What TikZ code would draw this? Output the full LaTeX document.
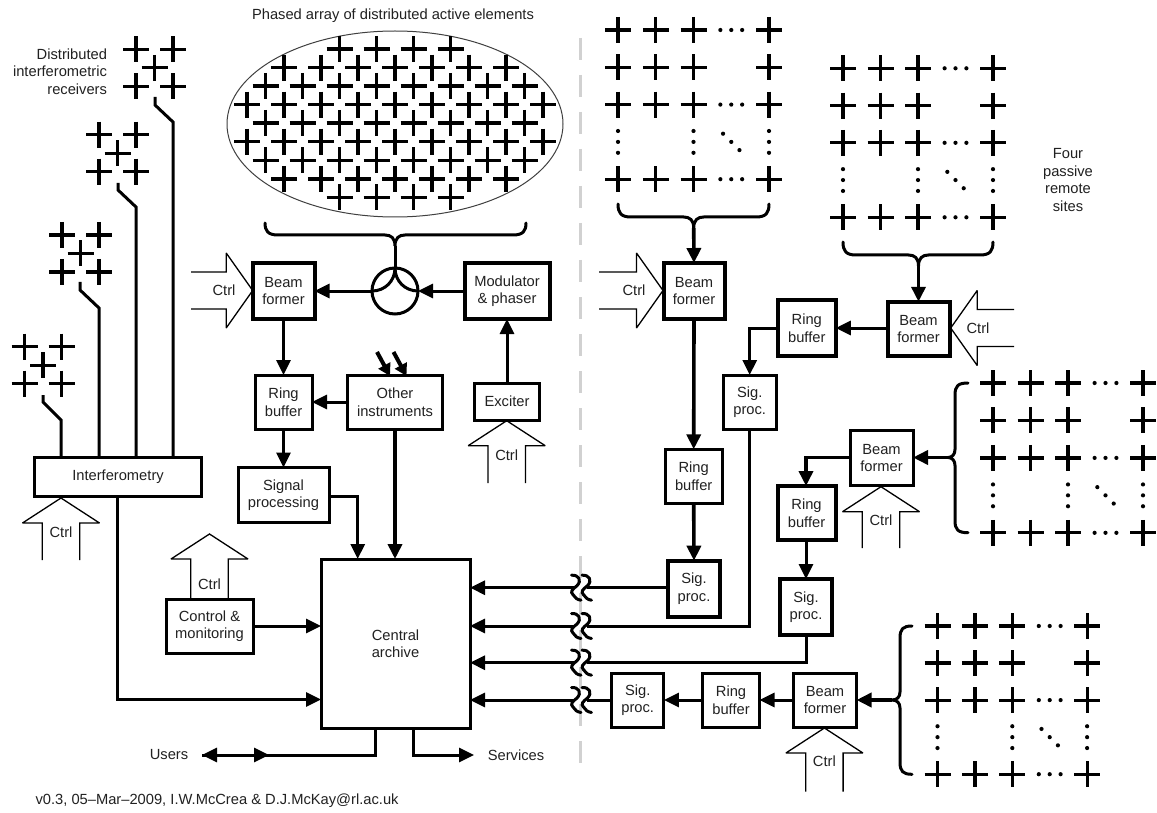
\documentclass[tikz,border=0pt]{standalone}
\usepackage{fontspec}
\setmainfont{Liberation Sans}
\usetikzlibrary{arrows.meta,shapes.geometric}
\definecolor{inkgrey}{gray}{0.13}
\tikzset{
  x=1pt,y=-1pt,
  boxa/.style={draw=black,line width=3pt,fill=white,inner sep=0pt,outer sep=0pt,align=center,text=inkgrey,font=\fontsize{14.7}{17.5}\selectfont},
  boxb/.style={boxa,line width=4pt},
  lab/.style={inner sep=0pt,outer sep=0pt,align=center,text=inkgrey,font=\fontsize{14.7}{17.5}\selectfont},
  conn/.style={line width=3pt,-{Triangle[length=15pt,width=14pt]}},
  wire/.style={line width=3pt},
  thickwire/.style={line width=3.6pt},
  plusline/.style={line width=3.2pt},
  outline/.style={line width=1.3pt,line join=miter,miter limit=3},
  squig/.style={line width=3pt,line cap=round},
  brace/.style={line width=3pt,line cap=round},
  size/.style n args={2}{minimum width=#1pt,minimum height=#2pt},
}
\newcommand{\plusat}[2]{\draw[plusline] ({#1-13},{#2}) -- ({#1+13},{#2}) ({#1},{#2-13}) -- ({#1},{#2+13});}
\newcommand{\dotat}[2]{\fill ({#1},{#2}) circle[radius=2.1];}
% x0, dx, y0, dy
\newcommand{\sitearray}[4]{%
  \foreach \r in {0,1,2,4}{\foreach \c in {0,1,2,4}{\plusat{#1+\c*#2}{#3+\r*#4}}}
  \foreach \r in {0,2,4}{\foreach \d in {-10.9,0,10.9}{\dotat{#1+3*#2+\d}{#3+\r*#4}}}
  \foreach \c in {0,2,4}{\foreach \d in {-10.9,0,10.9}{\dotat{#1+\c*#2}{#3+3*#4+\d}}}
  \foreach \d in {-8.2,0,8.2}{\dotat{#1+3*#2+\d}{#3+3*#4+\d}}
}
% xleft, xmid, xright, ytop, ybottom
\newcommand{\hbrace}[5]{%
  \draw[brace] (#1,#4) .. controls (#1,{#5-4}) and ({#1+3},#5) .. ({#1+13},#5) -- ({#2-10},#5)
     .. controls ({#2-4},#5) and (#2,{#5+3}) .. (#2,{#5+11})
     .. controls (#2,{#5+3}) and ({#2+4},#5) .. ({#2+10},#5) -- ({#3-13},#5)
     .. controls ({#3-3},#5) and (#3,{#5-4}) .. (#3,#4);}
% xend, xspine, xpeak, ytop, ymid, ybottom
\newcommand{\vbrace}[6]{%
  \draw[brace] (#1,#4) .. controls ({#2+3},#4) and (#2,{#4+3}) .. (#2,{#4+12}) -- (#2,{#5-8})
     .. controls (#2,{#5-3}) and ({#2-3},#5) .. (#3,#5)
     .. controls ({#2-3},#5) and (#2,{#5+3}) .. (#2,{#5+8}) -- (#2,{#6-12})
     .. controls (#2,{#6-3}) and ({#2+3},#6) .. (#1,#6);}
% apex x, apex y, shaft end y
\newcommand{\ctrlup}[3]{\draw[outline] ({#1-18.7},#3) -- ({#1-18.7},{#2+25}) -- ({#1-38.5},{#2+25}) -- (#1,#2) -- ({#1+38.5},{#2+25}) -- ({#1+18.7},{#2+25}) -- ({#1+18.7},#3);}
% apex x, apex y, shaft end x
\newcommand{\ctrlright}[3]{\draw[outline] (#3,{#2-18.5}) -- ({#1-26.5},{#2-18.5}) -- ({#1-26.5},{#2-37.5}) -- (#1,#2) -- ({#1-26.5},{#2+37.5}) -- ({#1-26.5},{#2+18.5}) -- (#3,{#2+18.5});}
\newcommand{\ctrlleft}[3]{\draw[outline] (#3,{#2-18.5}) -- ({#1+26.5},{#2-18.5}) -- ({#1+26.5},{#2-37.5}) -- (#1,#2) -- ({#1+26.5},{#2+37.5}) -- ({#1+26.5},{#2+18.5}) -- (#3,{#2+18.5});}
% receiver group: left x, y first row, wire x0 and bend
\newcommand{\recv}[2]{%
  \plusat{#1}{#2}\plusat{#1+37}{#2}\plusat{#1+18.5}{#2+18.5}\plusat{#1}{#2+37}\plusat{#1+37}{#2+37}}
\newcommand{\squiggle}[1]{%
  \foreach \dx in {0,10.5}{
  \draw[squig] ({571.5+\dx},{#1-12.5}) .. controls ({579+\dx},{#1-13}) and ({582+\dx},{#1-7}) .. ({577+\dx},{#1-2})
     .. controls ({572+\dx},{#1+2}) and ({570+\dx},{#1+4}) .. ({573+\dx},{#1+7}) .. controls ({575+\dx},{#1+10}) and ({577+\dx},{#1+12}) .. ({581+\dx},{#1+12.5});}}
\begin{document}
\begin{tikzpicture}
\useasboundingbox (0,0) rectangle (1157,813);
\fill[white] (0,0) rectangle (1157,813);

% divider
\draw[line width=3pt,black!18,dash pattern=on 22pt off 15pt] (580.5,38) -- (580.5,765);

% phased array
\node[lab] (title) at (393,15.5) {Phased array of distributed active elements};
\node[draw=black!75,line width=1pt,ellipse,minimum width=336pt,minimum height=186pt,inner sep=0pt,outer sep=0pt] (dish) at (395,124) {};
\foreach \x in {-55.5,-18.5,18.5,55.5}{\plusat{395+\x}{49}\plusat{395+\x}{197.3}}
\foreach \x in {-111,-74,-37,0,37,74,111}{\plusat{395+\x}{67.7}\plusat{395+\x}{179}}
\foreach \x in {-129.5,-92.5,-55.5,-18.5,18.5,55.5,92.5,129.5}{\plusat{395+\x}{86}\plusat{395+\x}{123}\plusat{395+\x}{160.3}}
\foreach \x in {-148,-111,-74,-37,0,37,74,111,148}{\plusat{395+\x}{104.7}\plusat{395+\x}{141.7}}

% receivers
\node[lab,align=right,anchor=east] (recvlab) at (107,71.5) {Distributed\\interferometric\\receivers};
\recv{136}{49.3}
\recv{99}{134.7}
\recv{62}{235}
\recv{24.5}{346.7}

\node[boxa,size={167}{39}] (intf) at (118,476.5) {Interferometry};
\coordinate (r1a) at (155,97);\coordinate (r1b) at (155,105);\coordinate (r1c) at (173,122);\coordinate (r1d) at (173,457);
\coordinate (r2a) at (118,183);\coordinate (r2b) at (118,190);\coordinate (r2c) at (136,207);\coordinate (r2d) at (136,457);
\coordinate (r3a) at (80,282);\coordinate (r3b) at (80,290);\coordinate (r3c) at (99,308);\coordinate (r3d) at (99,457);
\coordinate (r4a) at (43,395);\coordinate (r4b) at (43,402);\coordinate (r4c) at (61,420);\coordinate (r4d) at (61,457);
\draw[wire] (r1a) -- (r1b) -- (r1c) -- (r1d);
\draw[wire] (r2a) -- (r2b) -- (r2c) -- (r2d);
\draw[wire] (r3a) -- (r3b) -- (r3c) -- (r3d);
\draw[wire] (r4a) -- (r4b) -- (r4c) -- (r4d);
\ctrlup{61}{498}{560}
\node[lab] (c1) at (61,532) {Ctrl};

% left column
\node[boxb,size={62}{56}] (bf1) at (283.5,291) {Beam\\former};
\node[boxb,size={85}{56}] (mod) at (507,291) {Modulator\\\& phaser};
\node[boxa,size={57}{54}] (rb1) at (283.5,402) {Ring\\buffer};
\node[boxa,size={95}{54}] (oth) at (395,402) {Other\\instruments};
\node[boxa,size={65}{37}] (exc) at (507,401.5) {Exciter};
\node[boxa,size={91}{55}] (sp1) at (283.5,495) {Signal\\processing};
\node[boxa,size={149}{169}] (arc) at (395.5,643.5) {Central\\archive};
\node[boxa,size={87}{54}] (ctm) at (209.5,626) {Control \&\\monitoring};

\hbrace{265}{395}{526}{223}{235}
\coordinate (hub) at (395,246);
\draw[wire] (hub) -- (395,268);
\draw[wire] (395,291) circle[radius=23];
\coordinate (cl) at (372,291);
\coordinate (cr) at (418,291);
\draw[wire] (395,268) .. controls (395,281) and (385,291) .. (cl);
\draw[wire] (395,268) .. controls (395,281) and (405,291) .. (cr);
\draw[conn] (cl) -- (bf1.east);
\draw[conn] (mod.west) -- (cr);
\draw[conn] (bf1.south) -- (rb1.north);
\draw[conn] (oth.west) -- (rb1.east);
\draw[conn] (exc.north) -- (mod.south);
\draw[conn] (rb1.south) -- (sp1.north);
\coordinate (aa) at (377,352);\coordinate (ab) at (390,376);
\coordinate (ba) at (393.5,352);\coordinate (bb) at (406.5,376);
\draw[line width=4pt,-{Triangle[length=12pt,width=13pt]}] (aa) -- (ab);
\draw[line width=4pt,-{Triangle[length=12pt,width=13pt]}] (ba) -- (bb);
\draw[conn,line width=3.6pt] (oth.south) -- (arc.north -| oth.south);
\coordinate (sj) at (357.7,496);
\coordinate (sk) at (357.7,559);
\draw[conn] (sp1.east |- sj) -- (sj) -- (sk);
\draw[conn] (ctm.east) -- (arc.west |- ctm.east);
\coordinate (ij) at (117.4,699.5);
\draw[conn] (intf.south -| ij) -- (ij) -- (arc.west |- ij);

\ctrlright{252.7}{290.5}{191}
\node[lab] (c2) at (224,290) {Ctrl};
\ctrlup{506.7}{420.7}{483}
\node[lab] (c3) at (506.7,455) {Ctrl};
\ctrlup{209.5}{534}{598}
\node[lab] (c4) at (209.5,584) {Ctrl};

% users, services
\node[lab] (users) at (169,755) {Users};
\node[lab] (serv) at (516,755) {Services};
\coordinate (u1) at (375.5,755);\coordinate (u2) at (202,755);\coordinate (u3) at (269,755);
\coordinate (s1) at (413,755);\coordinate (s2) at (474,755);
\draw[conn] (arc.south -| u1) -- (u1) -- (u2);
\draw[conn] (u2) -- (u3);
\draw[conn] (arc.south -| s1) -- (s1) -- (s2);

% right side boxes
\node[boxb,size={61}{56}] (bf2) at (694,291) {Beam\\former};
\node[boxa,size={57}{54}] (rb2) at (693.7,476.3) {Ring\\buffer};
\node[boxb,size={52}{56}] (sg2) at (694,588.7) {Sig.\\proc.};
\node[boxb,size={62}{54.5}] (bf3) at (918.5,329) {Beam\\former};
\node[boxb,size={58}{56}] (rb3) at (806.8,328) {Ring\\buffer};
\node[boxa,size={53}{54}] (sg3) at (749.7,402) {Sig.\\proc.};
\node[boxa,size={63}{55}] (bf4) at (881.5,458) {Beam\\former};
\node[boxb,size={58}{54}] (rb4) at (806.5,513) {Ring\\buffer};
\node[boxb,size={52}{56}] (sg4) at (806,607) {Sig.\\proc.};
\node[boxa,size={63}{54}] (bf5) at (825,700) {Beam\\former};
\node[boxa,size={57}{54}] (rb5) at (731,700) {Ring\\buffer};
\node[boxa,size={52.5}{54}] (sg5) at (637.7,700) {Sig.\\proc.};

\sitearray{618}{37.75}{30}{37.3}
\sitearray{843}{37.5}{68.3}{37.25}
\sitearray{993}{37.5}{383}{37.45}
\sitearray{937.5}{37.4}{626}{37.05}

\hbrace{618}{693.7}{769}{204}{217}
\hbrace{843}{918.5}{993}{242}{255}
\vbrace{968}{955}{948}{383}{457.5}{532.7}
\vbrace{912}{900}{892}{626}{700}{774.3}

\coordinate (h2) at (693.7,228);
\draw[conn,line width=3.6pt] (h2) -- (bf2.north);
\coordinate (h3) at (918.5,266);
\draw[conn,line width=3.6pt] (h3) -- (bf3.north);
\coordinate (h4) at (948,457.5);
\draw[conn,line width=3.6pt] (h4) -- (bf4.east |- h4);
\coordinate (h5) at (892,700);
\draw[conn,line width=3.6pt] (h5) -- (bf5.east);

\draw[conn,line width=3.6pt] (bf2.south) -- (rb2.north);
\draw[conn,line width=3.6pt] (rb2.south) -- (sg2.north);
\draw[conn] (bf3.west |- rb3.east) -- (rb3.east);
\coordinate (j3) at (749.7,328);
\draw[conn] (rb3.west) -- (j3) -- (sg3.north);
\coordinate (j4) at (806,457.5);
\draw[conn,line width=3.6pt] (bf4.west |- j4) -- (j4) -- (rb4.north -| j4);
\draw[conn] (rb4.south -| sg4.north) -- (sg4.north);
\draw[conn] (bf5.west) -- (rb5.east);
\draw[conn] (rb5.west) -- (sg5.east);

% links to the archive, broken by the squiggles
\coordinate (l1a) at (587,587.7);\coordinate (l1b) at (575,587.7);
\coordinate (l2a) at (587,626);\coordinate (l2b) at (575,626);
\coordinate (l3a) at (587,662.7);\coordinate (l3b) at (575,662.7);
\coordinate (l4a) at (587,700);\coordinate (l4b) at (575,700);
\coordinate (j2) at (749.7,626);
\coordinate (j5) at (806,662.7);
\draw[wire] (sg2.west |- l1a) -- (l1a);
\draw[wire] (sg3.south) -- (j2) -- (l2a);
\draw[wire] (sg4.south) -- (j5) -- (l3a);
\draw[wire] (sg5.west) -- (l4a);
\draw[conn] (l1b) -- (arc.east |- l1b);
\draw[conn] (l2b) -- (arc.east |- l2b);
\draw[conn] (l3b) -- (arc.east |- l3b);
\draw[conn] (l4b) -- (arc.east |- l4b);
\squiggle{587.7}\squiggle{626}\squiggle{662.7}\squiggle{700}

\ctrlright{663}{290.5}{599}
\node[lab] (c5) at (634,290) {Ctrl};
\ctrlleft{950.7}{328}{1014}
\node[lab] (c6) at (978,328) {Ctrl};
\ctrlup{881}{486.7}{548}
\node[lab] (c7) at (881,520) {Ctrl};
\ctrlup{824.4}{728}{791.7}
\node[lab] (c8) at (824.4,761.7) {Ctrl};

\node[lab] (four) at (1068,180) {Four\\passive\\remote\\sites};
\node[lab,anchor=west] (foot) at (35.6,801) {v0.3, 05--Mar--2009, I.W.McCrea \& D.J.McKay@rl.ac.uk};
\end{tikzpicture}
\end{document}
